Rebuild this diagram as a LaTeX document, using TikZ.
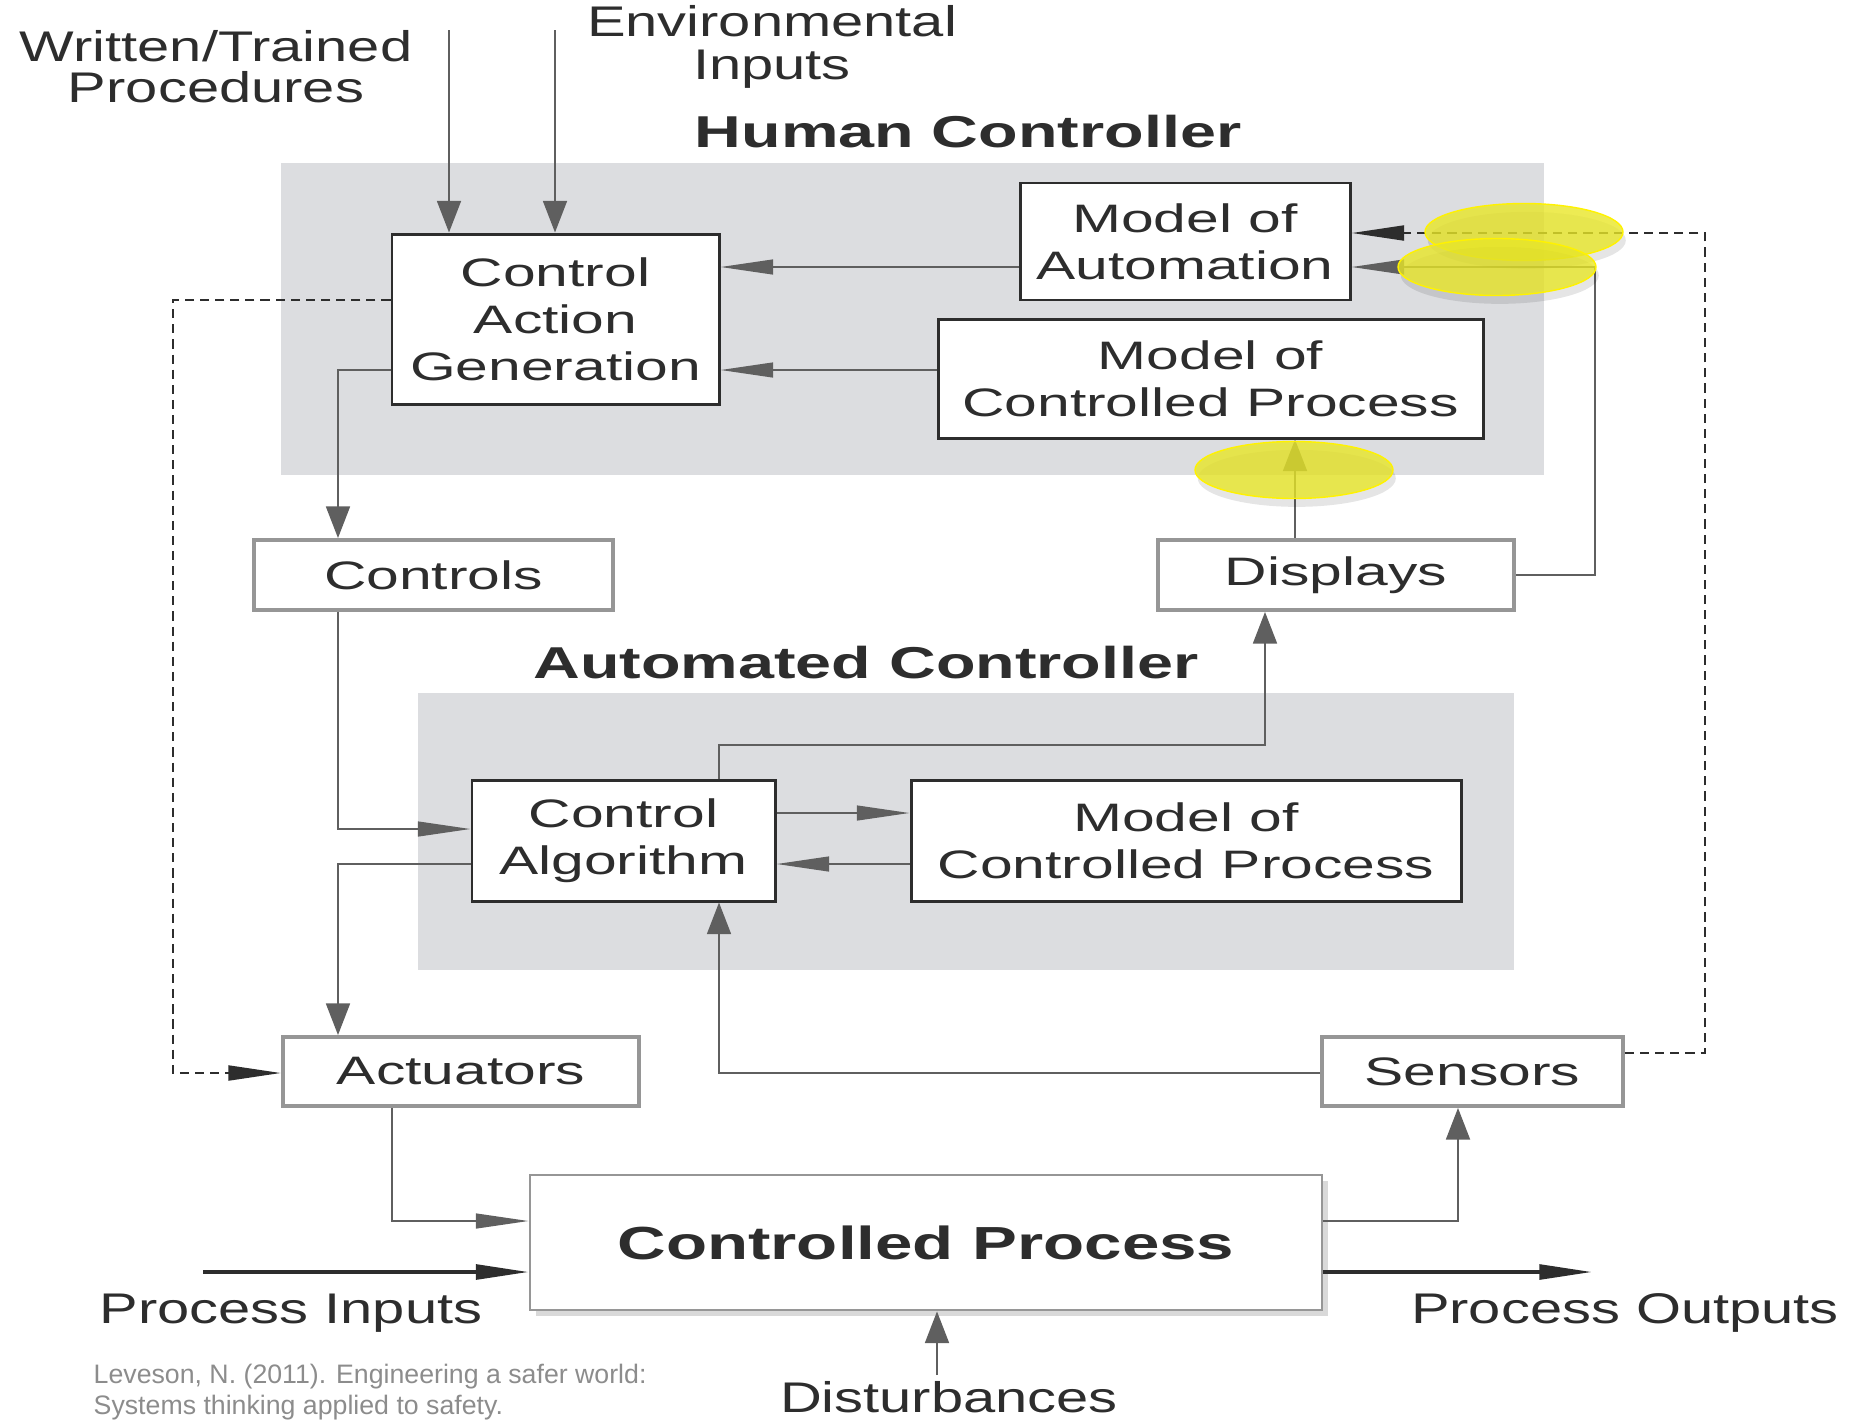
\documentclass[tikz,border=0pt]{standalone}
\usepackage{fontspec}
\setmainfont{Liberation Sans}
\newfontfamily\boxfont{Liberation Sans}[FakeStretch=1.48]
\newfontfamily\labfont{Liberation Sans}[FakeStretch=1.35]
\newfontfamily\headfont{Liberation Sans}[FakeStretch=1.45]
\usetikzlibrary{arrows.meta,shapes.geometric,shadows}
\definecolor{panel}{RGB}{220,221,224}
\definecolor{ink}{RGB}{45,45,45}
\definecolor{wire}{RGB}{95,95,95}
\definecolor{rim}{RGB}{150,150,150}
\definecolor{marker}{RGB}{232,230,40}
\definecolor{citegray}{RGB}{140,140,140}

\begin{document}
\begin{tikzpicture}[
    box/.style={draw=ink, line width=0.85pt, fill=white, inner sep=0pt, align=center, text=ink,
      font=\boxfont\fontsize{11.3}{13.4}\selectfont},
    gbox/.style={box, draw=rim, line width=1.1pt},
    lab/.style={align=center, inner sep=0pt, text=ink, font=\labfont\fontsize{12.2}{11.6}\selectfont},
    head/.style={inner sep=0pt, text=ink, font=\headfont\bfseries\fontsize{12.7}{14}\selectfont},
    conn/.style={draw=wire, line width=0.6pt},
    dashln/.style={draw=ink, line width=0.8pt, dash pattern=on 2.6pt off 1.7pt},
    harr/.style={-{Triangle[length=15pt,width=4.2pt]}},
    varr/.style={-{Triangle[length=9pt,width=6.8pt]}},
    hl/.style={ellipse, draw=yellow, line width=0.4pt, fill=marker, fill opacity=0.8,
      minimum width=1.98cm, minimum height=0.57cm,
      drop shadow={shadow xshift=0.15ex, shadow yshift=-0.45ex, opacity=0.1, fill=black}}
  ]
  \useasboundingbox (0,0) rectangle (18.5,-14.2);

  % Panels
  \fill[panel] (2.81,-1.63) rectangle (15.44,-4.75);
  \fill[panel] (4.18,-6.93) rectangle (15.14,-9.70);
  \node (HC) at (9.68,-1.32) [head] {Human Controller};
  \node (AU) at (8.66,-6.63) [head] {Automated Controller};

  % Human controller
  \node (CAG) at (5.555,-3.19) [box, minimum width=3.27cm, minimum height=1.70cm] {Control\\Action\\Generation};
  \node (MA) at (11.85,-2.415) [box, minimum width=3.30cm, minimum height=1.17cm] {Model of\\Automation};
  \node (MP) at (12.105,-3.785) [box, minimum width=5.45cm, minimum height=1.19cm] {Model of\\Controlled Process};

  % Interface
  \node (CT) at (4.335,-5.75) [gbox, minimum width=3.59cm, minimum height=0.70cm] {Controls};
  \node (DS) at (13.36,-5.75) [gbox, minimum width=3.56cm, minimum height=0.70cm] {Displays};

  % Automated controller
  \node (CA) at (6.235,-8.405) [box, minimum width=3.03cm, minimum height=1.21cm] {Control\\Algorithm};
  \node (MC) at (11.86,-8.405) [box, minimum width=5.50cm, minimum height=1.21cm] {Model of\\Controlled Process};

  % Process level
  \node (AC) at (4.61,-10.715) [gbox, minimum width=3.56cm, minimum height=0.69cm] {Actuators};
  \node (SN) at (14.725,-10.715) [gbox, minimum width=3.01cm, minimum height=0.69cm] {Sensors};
  \node (CP) at (9.26,-12.425) [gbox, line width=0.8pt, minimum width=7.92cm, minimum height=1.35cm,
    drop shadow={shadow xshift=0.3ex, shadow yshift=-0.3ex, opacity=0.15, fill=black},
    font=\headfont\bfseries\fontsize{13.2}{15}\selectfont] {Controlled Process};

  % Outside texts
  \node (WT) at (2.16,-0.67) [lab] {Written/Trained\\Procedures};
  \node (EI) at (7.72,-0.47) [lab, font=\labfont\fontsize{12.2}{12.4}\selectfont] {Environmental\\Inputs};
  \node (PI) at (2.91,-13.13) [lab] {Process Inputs};
  \node (PO) at (16.25,-13.13) [lab] {Process Outputs};
  \node (DI) at (9.49,-13.97) [lab] {Disturbances};
  \node (REF) at (0.93,-13.92) [anchor=west, align=left, inner sep=0pt, text=citegray,
    font=\fontsize{7.6}{8.8}\selectfont] {Leveson, N. (2011). Engineering a safer world:\\Systems thinking applied to safety.};

  \coordinate (wp) at (4.49,-0.30);
  \coordinate (ei) at (5.55,-0.30);
  \coordinate (pin) at (2.03,-12.72);
  \coordinate (pout) at (15.92,-12.72);
  \coordinate (dst) at (9.37,-13.75);

  % Connections
  \draw[conn,varr] (wp) -- (CAG.north -| wp);
  \draw[conn,varr] (ei) -- (CAG.north -| ei);
  \draw[conn,harr] (MA.west |- 0,-2.67) -- (CAG.east |- 0,-2.67);
  \draw[conn,harr] (MP.west |- 0,-3.70) -- (CAG.east |- 0,-3.70);
  \draw[conn,varr] (CAG.west |- 0,-3.70) -| (CT.north -| 3.38,0);
  \draw[conn,varr] (DS.north -| 12.95,0) -- (MP.south -| 12.95,0);
  \draw[conn,harr] (DS.east) -| (15.95,-2.67) -- (MA.east |- 0,-2.67);
  \draw[dashln,harr] (SN.east |- 0,-10.53) -| (17.05,-2.33) -- (MA.east |- 0,-2.33);
  \draw[dashln,harr] (CAG.west |- 0,-3.00) -| (1.73,-10.73) -- (AC.west |- 0,-10.73);
  \draw[conn,varr] (CA.north -| 7.19,0) |- (12.65,-7.45) -- (DS.south -| 12.65,0);
  \draw[conn,harr] (CT.south -| 3.38,0) |- (CA.west |- 0,-8.29);
  \draw[conn,varr] (CA.west |- 0,-8.64) -| (AC.north -| 3.38,0);
  \draw[conn,harr] (CA.east |- 0,-8.13) -- (MC.west |- 0,-8.13);
  \draw[conn,harr] (MC.west |- 0,-8.64) -- (CA.east |- 0,-8.64);
  \draw[conn,varr] (SN.west |- 0,-10.73) -| (CA.south -| 7.19,0);
  \draw[conn,harr] (AC.south -| 3.92,0) |- (CP.west |- 0,-12.21);
  \draw[conn,varr] (CP.east |- 0,-12.21) -| (SN.south -| 14.58,0);
  \draw[conn,harr,draw=ink,line width=1pt] (pin) -- (CP.west |- pin);
  \draw[conn,harr,draw=ink,line width=1pt] (CP.east |- pout) -- (pout);
  \draw[conn,varr] (dst) -- (CP.south -| dst);

  % Highlights
  \node (H1) at (15.24,-2.32) [hl] {};
  \node (H2) at (14.97,-2.67) [hl] {};
  \node (H3) at (12.94,-4.70) [hl] {};
\end{tikzpicture}
\end{document}
